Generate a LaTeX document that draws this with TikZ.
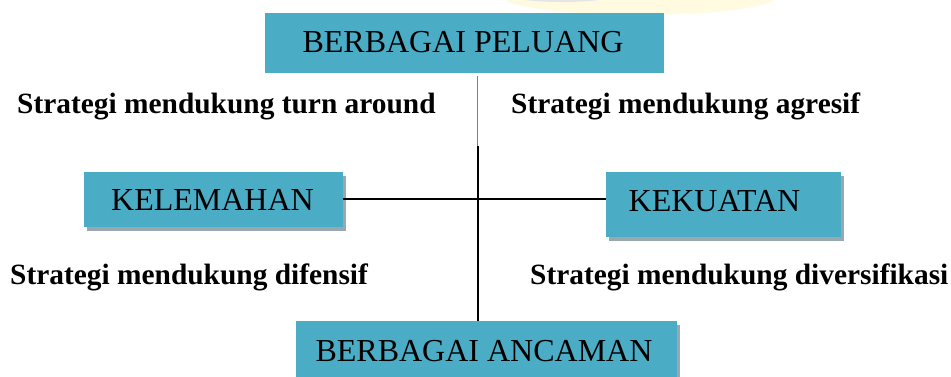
\documentclass[tikz,border=0pt]{standalone}
\usepackage{fontspec}
\setmainfont{Liberation Serif}
\usetikzlibrary{shadows}
\definecolor{boxblue}{HTML}{4BACC6}
\definecolor{shadowgray}{HTML}{98A8B0}
\definecolor{glow}{HTML}{FFFAE0}
\tikzset{
  box/.style={draw=none, fill=boxblue, inner sep=0pt},
  shadowbox/.style={box, drop shadow={shadow xshift=3pt, shadow yshift=-4pt, fill=shadowgray, opacity=1}},
  boxtext/.style={anchor=base, inner sep=0pt, font=\fontsize{32}{38}\selectfont},
  label/.style={anchor=base west, inner sep=0pt, font=\fontsize{29.4}{34}\selectfont\bfseries},
  thinline/.style={draw=gray, line width=0.8pt},
  thickline/.style={draw=black, line width=2pt}
}
\begin{document}
\begin{tikzpicture}[x=1pt,y=1pt]
\useasboundingbox (0,0) rectangle (951,377);
\begin{scope}
\clip (0,0) rectangle (951,377);
% faint watermark glow at top
\fill[glow] (640,382) ellipse [x radius=140, y radius=20];
\fill[gray!20] (562,380) ellipse [x radius=46, y radius=5];
% boxes
\node[box, minimum width=399pt, minimum height=60pt] (peluang) at (464.5,334) {};
\node[shadowbox, minimum width=259pt, minimum height=55pt] (lemah) at (213.5,177.5) {};
\node[shadowbox, minimum width=235pt, minimum height=65pt] (kuat) at (723.5,172.5) {};
\node[shadowbox, minimum width=381pt, minimum height=64pt] (ancaman) at (486.5,24) {};
\end{scope}
% box texts
\node[boxtext] (tpeluang) at (463,324) {BERBAGAI PELUANG};
\node[boxtext] (tlemah) at (212.5,166) {KELEMAHAN};
\node[boxtext] (tkuat) at (714.5,165) {KEKUATAN};
\node[boxtext] (tancaman) at (484,15) {BERBAGAI ANCAMAN};
% connectors
\coordinate (split) at (477.5,231);
\draw[thinline] (peluang.south -| split) ++(0,-3) -- (split);
\draw[thickline] (split) -- (ancaman.north -| split);
\draw[thickline] (lemah.east) -- (kuat.west |- lemah.east);
% labels
\node[label] (turn) at (17,263) {Strategi mendukung turn around};
\node[label] (agresif) at (511,263) {Strategi mendukung agresif};
\node[label] (difensif) at (10,92) {Strategi mendukung difensif};
\node[label] (divers) at (530,92) {Strategi mendukung diversifikasi};
\end{tikzpicture}
\end{document}
